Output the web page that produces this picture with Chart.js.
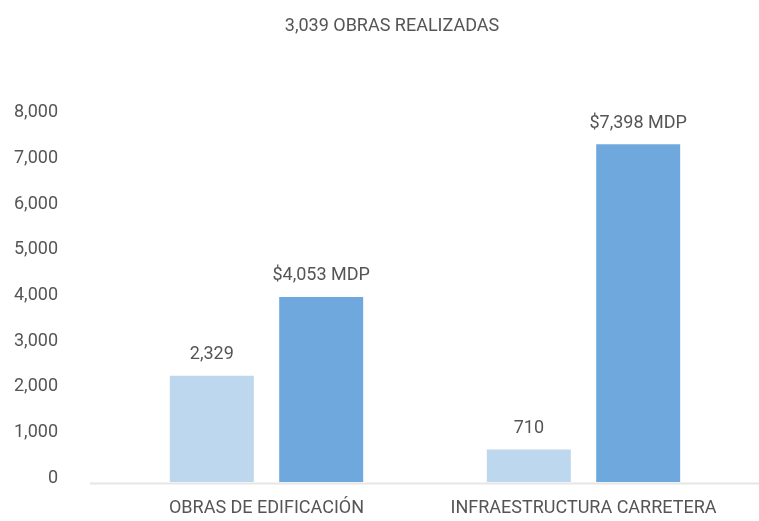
<!DOCTYPE html>
<html>
<head>
<meta charset="utf-8">
<script src="https://cdn.jsdelivr.net/npm/chart.js@4.4.1/dist/chart.umd.min.js"></script>
<style>
  html, body { margin: 0; padding: 0; background: #fff; }
  #wrap { width: 759px; height: 521px; }
</style>
</head>
<body>
<div id="wrap"><canvas id="chart" width="759" height="521"></canvas></div>
<script>
// datos
const titleText  = '3,039 OBRAS REALIZADAS';
const categories = ['OBRAS DE EDIFICACIÓN', 'INFRAESTRUCTURA CARRETERA'];
const obras      = [2329, 710];     // número de obras
const montoMDP   = [4053, 7398];    // monto en millones de pesos
const yTicks     = [0, 1000, 2000, 3000, 4000, 5000, 6000, 7000, 8000];

const fmt = v => v.toLocaleString('en-US');
const textColor = '#555';

// título: va un poco a la derecha del centro, como en el original
const titleDraw = {
  id: 'titleDraw',
  afterDraw(chart) {
    const ctx = chart.ctx;
    ctx.save();
    ctx.font = '18px Roboto';
    ctx.fillStyle = textColor;
    ctx.textAlign = 'center';
    ctx.textBaseline = 'middle';
    ctx.fillText(titleText, 392, 26);
    ctx.restore();
  }
};

// etiquetas encima de cada barra
const valueLabels = {
  id: 'valueLabels',
  afterDatasetsDraw(chart) {
    const ctx = chart.ctx;
    ctx.save();
    ctx.font = '18px Roboto';
    ctx.fillStyle = textColor;
    ctx.textAlign = 'center';
    ctx.textBaseline = 'middle';
    chart.data.datasets.forEach((ds, i) => {
      chart.getDatasetMeta(i).data.forEach((bar, j) => {
        ctx.fillText(ds.fmtLabel(ds.data[j]), bar.x, bar.y - 21);
      });
    });
    ctx.restore();
  }
};

// línea base gris que se extiende más allá del área
const baseLine = {
  id: 'baseLine',
  beforeDatasetsDraw(chart) {
    const ctx = chart.ctx;
    const y0 = chart.scales.y.getPixelForValue(0) + 1.5;
    ctx.save();
    ctx.strokeStyle = '#e6e6e6';
    ctx.lineWidth = 2;
    ctx.beginPath();
    ctx.moveTo(90, y0);
    ctx.lineTo(chart.width, y0);
    ctx.stroke();
    ctx.restore();
  }
};

new Chart(document.getElementById('chart'), {
  type: 'bar',
  data: {
    labels: categories,
    datasets: [{
      label: 'Obras',
      data: obras,
      backgroundColor: '#bdd7ee',
      fmtLabel: v => fmt(v)
    }, {
      label: 'Monto',
      data: montoMDP,
      backgroundColor: '#6fa8dc',
      fmtLabel: v => '$' + fmt(v) + ' MDP'
    }]
  },
  options: {
    responsive: false,
    animation: false,
    categoryPercentage: 0.69,
    barPercentage: 0.768,
    layout: { padding: { left: 0, right: 17, top: 116.7, bottom: 0 } },
    plugins: {
      legend: { display: false },
      tooltip: { enabled: false },
      title: { display: false }
    },
    scales: {
      x: {
        afterFit: s => { s.height = 39; },
        grid: { display: false, drawTicks: false },
        border: { display: false },
        ticks: {
          color: textColor,
          padding: 16,
          maxRotation: 0,
          autoSkip: false,
          font: { family: 'Roboto', size: 18 }
        }
      },
      y: {
        min: 0,
        max: 8000,
        afterBuildTicks: s => { s.ticks = yTicks.map(v => ({ value: v })); },
        afterFit: s => {
          s.width = 108;
          s.paddingTop = 11;
          s.paddingBottom = 11;
        },
        grid: { display: false, drawTicks: false },
        border: { display: false },
        ticks: {
          color: textColor,
          padding: 50,
          labelOffset: -4,
          font: { family: 'Roboto', size: 18 },
          callback: v => fmt(v)
        }
      }
    }
  },
  plugins: [valueLabels, baseLine, titleDraw]
});
</script>
</body>
</html>
